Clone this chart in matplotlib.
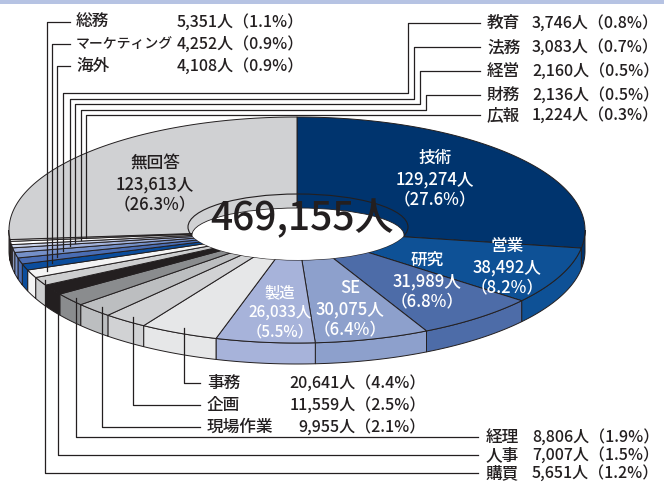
import numpy as np
import matplotlib
matplotlib.use('Agg')
import matplotlib.pyplot as plt
from matplotlib.patches import Polygon, Ellipse, Rectangle

plt.rcParams['font.family'] = ['Noto Sans CJK JP', 'DejaVu Sans']
plt.rcParams['font.weight'] = 'medium'

# data, clockwise from 12 o'clock
cats = ['技術', '営業', '研究', 'SE', '製造', '事務', '企画', '現場作業', '経理', '人事',
        '購買', '総務', 'マーケティング', '海外', '教育', '法務', '経営', '財務', '広報', '無回答']
counts = [129274, 38492, 31989, 30075, 26033, 20641, 11559, 9955, 8806, 7007,
          5651, 5351, 4252, 4108, 3746, 3083, 2160, 2136, 1224, 123613]
pcts = [27.6, 8.2, 6.8, 6.4, 5.5, 4.4, 2.5, 2.1, 1.9, 1.5,
        1.2, 1.1, 0.9, 0.9, 0.8, 0.7, 0.5, 0.5, 0.3, 26.3]
colors = ['#00346e', '#0e5196', '#4d6ca8', '#8da0cc', '#a7b3da', '#e6e7e8', '#d1d2d4',
          '#bcbec0', '#8a8c8e', '#231f20', '#cdcecf', '#f4f4f4', '#0b4d9c', '#4a6db3',
          '#7590c8', '#a3b3dc', '#ccd5ec', '#ffffff', '#eeeeee', '#d0d1d3']
total = sum(counts)

# geometry of the tilted donut (pixels)
cx, cy, rx, ry, depth = 297, 230, 288, 113, 21
ink = '#231f20'

fig = plt.figure(figsize=(6.64, 4.83), dpi=100)
ax = fig.add_axes([0, 0, 1, 1])
ax.set_xlim(0, 664)
ax.set_ylim(483, 0)
ax.axis('off')

ax.add_patch(Rectangle((0, 0), 664, 4, color='#b6c3e3', lw=0))

def pt(th, t=1.0):
    return cx + t * rx * np.sin(th), cy - t * ry * np.cos(th)

bounds = np.concatenate([[0], np.cumsum(counts)]) / total * 2 * np.pi

# side walls (front half only)
for i in range(len(cats)):
    a1 = max(bounds[i], np.pi / 2)
    a2 = min(bounds[i + 1], 3 * np.pi / 2)
    if a1 >= a2:
        continue
    th = np.linspace(a1, a2, 60)
    xs, ys = pt(th)
    poly = list(zip(xs, ys)) + list(zip(xs[::-1], ys[::-1] + depth))
    ax.add_patch(Polygon(poly, closed=True, fc=colors[i], ec=ink, lw=0.7))

# top surface
for i in range(len(cats)):
    th = np.linspace(bounds[i], bounds[i + 1], 80)
    xs, ys = pt(th)
    poly = [(cx, cy)] + list(zip(xs, ys))
    ax.add_patch(Polygon(poly, closed=True, fc=colors[i], ec=ink, lw=0.7))

# hole
hole = Ellipse((298, 227), 220, 66, fc='none', ec=ink, lw=0.8, zorder=3)
ax.add_patch(hole)
inner = Ellipse((298, 235), 212, 54, fc='white', ec=ink, lw=0.6, zorder=3)
ax.add_patch(inner)
inner.set_clip_path(hole)
ax.text(302, 219, '469,155人', fontsize=28, ha='center', va='center', color=ink, zorder=5)

# labels on the big slices
inside = {'技術': (435, 179), '営業': (507, 267), '研究': (427, 281), 'SE': (350, 309),
          '製造': (280, 312), '無回答': (155, 184)}
for name, (x, y) in inside.items():
    i = cats.index(name)
    c = ink if name == '無回答' else 'white'
    fs = 11 if name == '製造' else 12
    ax.text(x, y, f'{name}\n{counts[i]:,}人\n（{pcts[i]}%）', ha='center', va='center',
            color=c, fontsize=fs, linespacing=1.2, zorder=4)

def anchor(i, x):
    th = (bounds[i] + bounds[i + 1]) / 2
    t = (x - cx) / (rx * np.sin(th))
    return cy - t * ry * np.cos(th)

lk = dict(color=ink, lw=0.9, zorder=6)
fs = 12
vfs = 11.5

def value(i):
    return f'{counts[i]:,}人（{pcts[i]}%）'

# top-left group
for name, x, y in zip(['総務', 'マーケティング', '海外'], [47, 52, 57], [22, 44, 66]):
    i = cats.index(name)
    ax.plot([x, x, 70], [anchor(i, x), y, y], **lk)
    ax.text(76, y, name, fontsize=10 if len(name) > 4 else fs, va='center', color=ink)
    ax.text(177, y, value(i), fontsize=vfs, va='center', color=ink)

# top-right group
for name, x, yh, xc, y in zip(['教育', '法務', '経営', '財務', '広報'],
                              [63, 70, 75, 81, 86], [93, 99, 104, 110, 115],
                              [408, 414, 420, 426, 430], [23, 47, 71, 95, 115]):
    i = cats.index(name)
    ax.plot([x, x, xc, xc, 480], [anchor(i, x), yh, yh, y, y], **lk)
    ax.text(487, y, name, fontsize=fs, va='center', color=ink)
    ax.text(532, y, value(i), fontsize=vfs, va='center', color=ink)

# bottom-middle group
for name, x, y in zip(['事務', '企画', '現場作業'], [184, 133, 102], [383, 405, 427]):
    i = cats.index(name)
    ax.plot([x, x, 200], [anchor(i, x), y, y], **lk)
    ax.text(207, y, name, fontsize=fs, va='center', color=ink)
    ax.text(426, y, value(i), fontsize=vfs, va='center', ha='right', color=ink)

# bottom-right group
for name, x, y in zip(['経理', '人事', '購買'], [76, 58, 45], [437, 455, 473]):
    i = cats.index(name)
    ax.plot([x, x, 478], [anchor(i, x), y, y], **lk)
    ax.text(486, y, name, fontsize=fs, va='center', color=ink)
    ax.text(532, y, value(i), fontsize=vfs, va='center', color=ink)

fig.savefig('out.png', dpi=100)
